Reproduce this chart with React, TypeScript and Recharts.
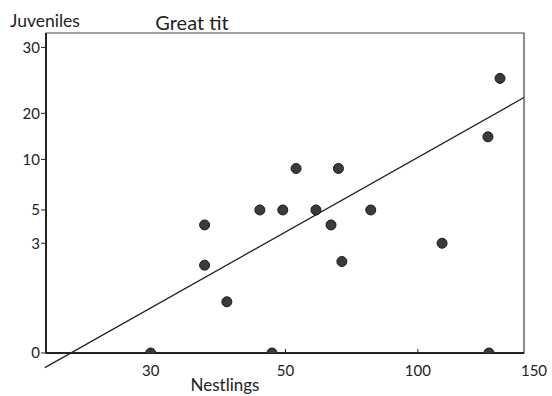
import { ScatterChart, Scatter, XAxis, YAxis, ReferenceLine, ReferenceArea } from 'recharts';

// Great tit: juveniles vs nestlings (axes drawn on a warped scale, as in the source)
const NESTLINGS = [30, 48, 133.5, 38, 38, 41.3, 46.2, 49.6, 54, 61.5, 67.2, 70, 71.3, 82.2, 111.4, 133, 138.7];
const JUVENILES = [0, 0, 0, 4.1, 2.4, 1.4, 5, 5, 9.1, 5, 4.1, 9.1, 2.5, 5, 3, 14.9, 25.3];

const NESTLING_TICKS = [30, 50, 100, 150];
const JUVENILE_TICKS = [0, 3, 5, 10, 20, 30];

// fitted line end points
const FIT_NESTLINGS = [14.3, 150];
const FIT_JUVENILES = [-0.4, 22.4];

// where each tick sits along its axis (0..1)
const X_TICK_POS = [0.219, 0.501, 0.778, 1];
const Y_TICK_POS = [0, 0.343, 0.447, 0.605, 0.749, 0.955];

const FONT = 'Lato, "Open Sans", sans-serif';
const INK = '#222';

function warp(v: number, vals: number[], pos: number[]) {
  let i = 0;
  while (i < vals.length - 2 && v > vals[i + 1]) i++;
  const t = (v - vals[i]) / (vals[i + 1] - vals[i]);
  return pos[i] + t * (pos[i + 1] - pos[i]);
}
const wx = (v: number) => warp(v, NESTLING_TICKS, X_TICK_POS);
const wy = (v: number) => warp(v, JUVENILE_TICKS, Y_TICK_POS);

const points = NESTLINGS.map((n, i) => ({ x: wx(n), y: wy(JUVENILES[i]) }));

const XTick = (props: any) => {
  const { x, y, index } = props;
  const last = index === NESTLING_TICKS.length - 1;
  return (
    <g>
      {!last && <line x1={x} x2={x} y1={y} y2={y - 4} stroke={INK} strokeWidth={1} />}
      <text x={last ? x + 10 : x} y={y + 23} textAnchor="middle" fontSize={15} fill={INK} fontFamily={FONT}>
        {NESTLING_TICKS[index]}
      </text>
    </g>
  );
};

export default function App() {
  return (
    <div style={{ position: 'absolute', left: 0, top: 0, width: 552, height: 396, background: '#fff' }}>
      <ScatterChart width={552} height={396} margin={{ top: 33, right: 28, left: 6, bottom: 0 }}>
        <ReferenceArea x1={0} x2={1} y1={0} y2={1} fill="none" stroke="#444" strokeWidth={1.2} ifOverflow="visible" />
        <XAxis
          type="number"
          dataKey="x"
          domain={[0, 1]}
          ticks={X_TICK_POS}
          height={43}
          tickSize={0}
          tickMargin={0}
          tick={<XTick />}
          axisLine={{ stroke: INK, strokeWidth: 2 }}
          allowDataOverflow
        />
        <YAxis
          type="number"
          dataKey="y"
          domain={[0, 1]}
          ticks={Y_TICK_POS}
          width={40}
          tickSize={5}
          tickMargin={1}
          tickFormatter={(_v: number, i: number) => String(JUVENILE_TICKS[i])}
          tick={{ fontSize: 15, fill: INK, fontFamily: FONT }}
          tickLine={{ stroke: INK }}
          axisLine={{ stroke: INK, strokeWidth: 2 }}
          allowDataOverflow
        />
        <ReferenceLine
          segment={[
            { x: wx(FIT_NESTLINGS[0]), y: wy(FIT_JUVENILES[0]) },
            { x: wx(FIT_NESTLINGS[1]), y: wy(FIT_JUVENILES[1]) },
          ]}
          stroke={INK}
          strokeWidth={1.3}
          ifOverflow="visible"
        />
        <Scatter
          data={points}
          fill="#3b3b3b"
          isAnimationActive={false}
          shape={(p: any) => <circle cx={p.cx} cy={p.cy} r={5} fill="#3b3b3b" stroke="#1a1a1a" strokeWidth={1} />}
        />
      </ScatterChart>
      <svg width={552} height={396} style={{ position: 'absolute', left: 0, top: 0, pointerEvents: 'none' }}>
        <text x={192} y={30} textAnchor="middle" fontSize={20} fill={INK} fontFamily={FONT}>Great tit</text>
        <text x={10} y={27} fontSize={17.5} fill={INK} fontFamily={FONT}>Juveniles</text>
        <text x={225} y={391} textAnchor="middle" fontSize={17} fill={INK} fontFamily={FONT}>Nestlings</text>
      </svg>
    </div>
  );
}
